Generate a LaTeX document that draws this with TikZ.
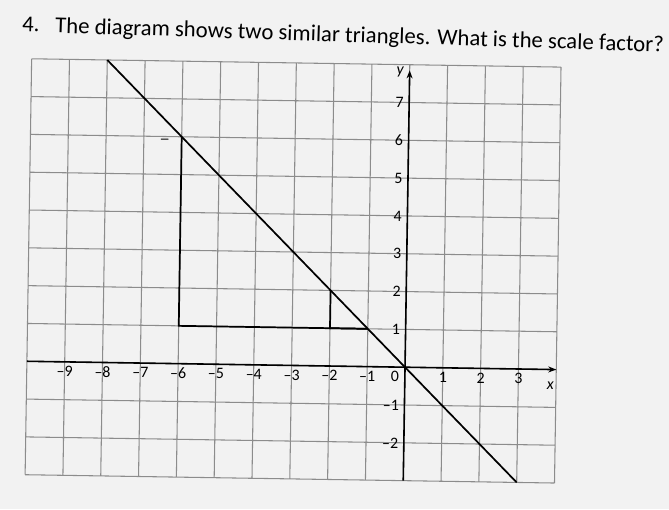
\documentclass[tikz,border=0pt]{standalone}
\usepackage{fontspec}
\setmainfont{Carlito}
\usetikzlibrary{arrows.meta,positioning}

\begin{document}
\begin{tikzpicture}[
    gridline/.style={draw=black!45, line width=0.8pt},
    axis/.style={-{Stealth[length=6pt,width=4.5pt]}, line width=1.2pt},
    edge/.style={line width=1.3pt},
    xlab/.style={font=\fontsize{12}{14}\selectfont, below=2pt, inner sep=1pt},
    ylab/.style={font=\fontsize{12}{14}\selectfont, left=3pt, inner sep=1pt},
    title/.style={font=\fontsize{17.1}{20}\selectfont, anchor=base west, inner sep=0pt}
]
    % 背景
    \useasboundingbox[fill=black!5] (-10.71,-3.76) rectangle (6.98,9.71);

    % 题目
    \node[title, rotate=-1.8] (qnum) at (-10.13,8.88) {4.};
    \node[title, rotate=-1.8] (question) at (-9.26,8.84) {The diagram shows two similar triangles. What is the scale factor?};

    \begin{scope}[rotate=-0.9]
    % 网格
    \draw[gridline] (-10,-3) grid (4,8);

    % 坐标轴
    \coordinate (xstart) at (-10,0);
    \coordinate (xend) at (4,0);
    \coordinate (ystart) at (0,-3);
    \coordinate (yend) at (0,7.85);
    \draw[axis] (xstart) -- (xend);
    \draw[axis] (ystart) -- (yend);
    \node[font=\fontsize{12}{14}\selectfont\itshape] (xname) at (3.85,-0.42) {x};
    \node[font=\fontsize{12}{14}\selectfont\itshape] (yname) at (-0.25,7.8) {y};

    % x 轴刻度
    \node[xlab] (xm9) at (-9,0) {--9};
    \node[xlab] (xm8) at (-8,0) {--8};
    \node[xlab] (xm7) at (-7,0) {--7};
    \node[xlab] (xm6) at (-6,0) {--6};
    \node[xlab] (xm5) at (-5,0) {--5};
    \node[xlab] (xm4) at (-4,0) {--4};
    \node[xlab] (xm3) at (-3,0) {--3};
    \node[xlab] (xm2) at (-2,0) {--2};
    \node[xlab] (xm1) at (-1,0) {--1};
    \node[xlab] (origin) at (-0.27,0) {0};
    \node[xlab] (xp1) at (1,0) {1};
    \node[xlab] (xp2) at (2,0) {2};
    \node[xlab] (xp3) at (3,0) {3};

    % y 轴刻度
    \node[ylab] (yp7) at (0,7) {7};
    \node[ylab] (yp6) at (0,6) {6};
    \node[ylab] (yp5) at (0,5) {5};
    \node[ylab] (yp4) at (0,4) {4};
    \node[ylab] (yp3) at (0,3) {3};
    \node[ylab] (yp2) at (0,2) {2};
    \node[ylab] (yp1) at (0,1) {1};
    \node[ylab] (ym1) at (0,-1) {--1};
    \node[ylab] (ym2) at (0,-2) {--2};

    % 直线与两个相似三角形
    \coordinate (linestart) at (-8,8);
    \coordinate (lineend) at (3,-3);
    \coordinate (bigtop) at (-6,6);
    \coordinate (bigcorner) at (-6,1);
    \coordinate (smalltop) at (-2,2);
    \coordinate (smallcorner) at (-2,1);
    \coordinate (tip) at (-1,1);
    \draw[edge] (linestart) -- (lineend);
    \draw[edge] (bigtop) -- (bigcorner) -- (tip);
    \draw[edge] (smalltop) -- (smallcorner) -- (tip);

    % 铅笔小记号
    \coordinate (markl) at (-6.55,5.93);
    \coordinate (markr) at (-6.35,5.93);
    \draw[line width=0.8pt] (markl) -- (markr);
    \end{scope}
\end{tikzpicture}
\end{document}
